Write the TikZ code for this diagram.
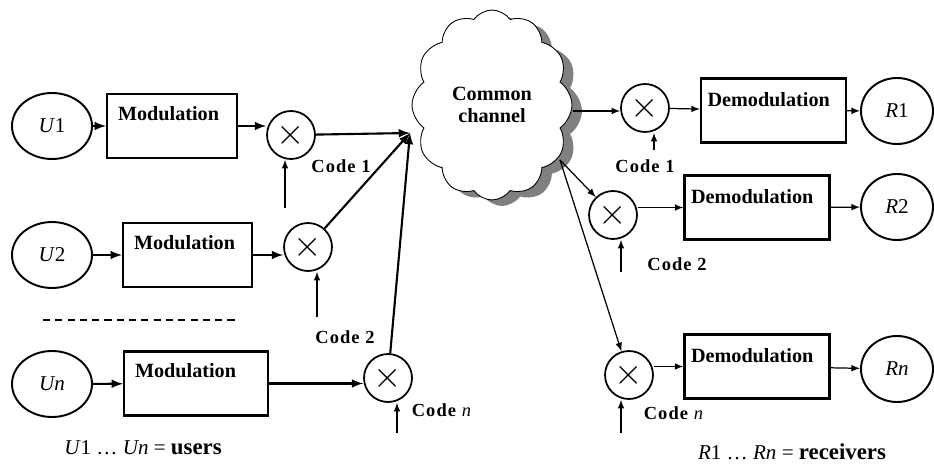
\documentclass[tikz,border=0pt]{standalone}
\usepackage{fontspec}
\setmainfont{Liberation Serif}
\usetikzlibrary{positioning,shadows,arrows,shapes.geometric,shapes.symbols}

\begin{document}
\begin{tikzpicture}[x=0.02cm, y=-0.02cm,
	user/.style={ellipse, draw, line width=1.1pt, minimum width=1.6cm, minimum height=1.32cm,
		inner sep=0pt, font=\fontsize{12}{14}\selectfont},
	recv/.style={ellipse, draw, line width=1.1pt, minimum width=1.44cm, minimum height=1.32cm,
		inner sep=0pt, font=\fontsize{12}{14}\selectfont},
	modbox/.style={rectangle, draw, line width=1.2pt, inner xsep=0.22cm, inner ysep=0pt,
		text width=#1, align=left, text height=0.52cm, text depth=0.76cm,
		font=\bfseries\fontsize{11.5}{13}\selectfont},
	demodbox/.style={rectangle, draw, line width=1.2pt, inner xsep=0.13cm, inner ysep=0pt,
		text width=2.64cm, align=left, text height=0.56cm, text depth=0.72cm,
		font=\bfseries\fontsize{11.5}{13}\selectfont},
	mult/.style={circle, draw, line width=1pt, minimum size=0.96cm, inner sep=0pt,
		font=\fontsize{20}{20}\selectfont},
	codelbl/.style={font=\bfseries\fontsize{10.5}{12}\selectfont\addfontfeatures{LetterSpace=6}},
	sumlbl/.style={font=\fontsize{12}{14}\selectfont},
	thickarr/.style={-latex, line width=1.2pt},
	thinarr/.style={-latex, line width=0.7pt}
	]
	\node (u1) [user] at (52,126) {\textit{U}1};
	\node (u2) [user] at (52,255) {\textit{U}2};
	\node (un) [user] at (52,384) {\textit{Un}};
	\node (m1) [modbox=2.16cm] at (172,126) {Modulation};
	\node (m2) [modbox=2.14cm] at (187.5,255) {Modulation};
	\node (mn) [modbox=2.44cm] at (196,383.5) {Modulation};
	\node (x1) [mult] at (291,135) {$\times$};
	\node (x2) [mult] at (308,247) {$\times$};
	\node (xn) [mult] at (388,378) {$\times$};
	\coordinate (hub) at (410,133);
	\node (chan) [cloud, draw, fill=white, line width=0.5pt, cloud puffs=12, cloud puff arc=110,
		cloud ignores aspect, minimum width=3.2cm, minimum height=3.8cm, align=center,
		font=\bfseries\fontsize{11.5}{12.5}\selectfont,
		drop shadow={shadow xshift=0.2cm, shadow yshift=-0.12cm, fill=black!50, opacity=1}]
		at (492,105) {Common\\channel};
	\coordinate (o1) at (573,111);
	\coordinate (o2) at (560,160);
	\node (xr1) [mult] at (645,108) {$\times$};
	\node (xr2) [mult] at (613,215) {$\times$};
	\node (xrn) [mult] at (629,375) {$\times$};
	\node (d1) [demodbox] at (773.5,110.5) {Demodulation};
	\node (d2) [demodbox] at (757,207.5) {Demodulation};
	\node (dn) [demodbox] at (757,366.5) {Demodulation};
	\node (r1) [recv] at (897,111) {\textit{R}1};
	\node (r2) [recv] at (897,207) {\textit{R}2};
	\node (rn) [recv] at (897,369) {\textit{Rn}};

	\coordinate (cd1) at (285,208);
	\coordinate (cd2) at (317,317);
	\coordinate (cdn) at (397,433);
	\coordinate (cr1) at (654,150);
	\coordinate (cr2) at (621,272);
	\coordinate (crn) at (621,433);

	\node (lc1) [codelbl] at (341,166) {Code 1};
	\node (lc2) [codelbl] at (345,337) {Code 2};
	\node (lcn) [codelbl] at (442,410) {Code \textit{\mdseries n}};
	\node (rc1) [codelbl] at (645,166) {Code 1};
	\node (rc2) [codelbl] at (677,264) {Code 2};
	\node (rcn) [codelbl] at (674,413) {Code \textit{\mdseries n}};
	\node (users) [sumlbl] at (143,448) {\textit{U}1 … \textit{Un} = \textbf{\fontsize{13}{14}\selectfont users}};
	\node (recvs) [sumlbl] at (792,452) {\textit{R}1 … \textit{Rn} = \textbf{\fontsize{13}{14}\selectfont receivers}};

	\draw [dashed, line width=0.8pt, dash pattern=on 4pt off 3pt] (43,320) -- (238,320);

	\draw [thickarr] (u1) -- (m1);
	\draw [thickarr] (u2) -- (m2);
	\draw [thickarr] (un) -- (mn);
	\draw [thickarr] (m1.east) -- (m1.east -| x1.west);
	\draw [thickarr] (m2.east) -- (m2.east -| x2.west);
	\draw [thickarr] (mn.east) -- (mn.east -| xn.west);
	\draw [thickarr] (x1) -- (hub);
	\draw [thickarr] (x2) -- (hub);
	\draw [thickarr] (xn) -- (hub);
	\draw [thinarr] (cd1) -- (cd1 |- x1.south);
	\draw [thinarr] (cd2) -- (cd2 |- x2.south);
	\draw [thinarr] (cdn) -- (cdn |- xn.south);

	\draw [thinarr] (o1) -- (o1 -| xr1.west);
	\draw [thinarr] (o2) -- (xr2);
	\draw [thinarr] (o2) -- (xrn);
	\draw [thinarr] (xr1) -- (d1);
	\draw [thinarr] (d2.west -| xr2.east) -- (d2.west);
	\draw [thinarr] (dn.west -| xrn.east) -- (dn.west);
	\draw [thinarr] (d1) -- (r1);
	\draw [thinarr] (d2) -- (r2);
	\draw [thinarr] (dn) -- (rn);
	\draw [thinarr] (cr1) -- (cr1 |- xr1.south);
	\draw [thinarr] (cr2) -- (cr2 |- xr2.south);
	\draw [thinarr] (crn) -- (crn |- xrn.south);

	\useasboundingbox (0,0) rectangle (934,462);
\end{tikzpicture}
\end{document}
